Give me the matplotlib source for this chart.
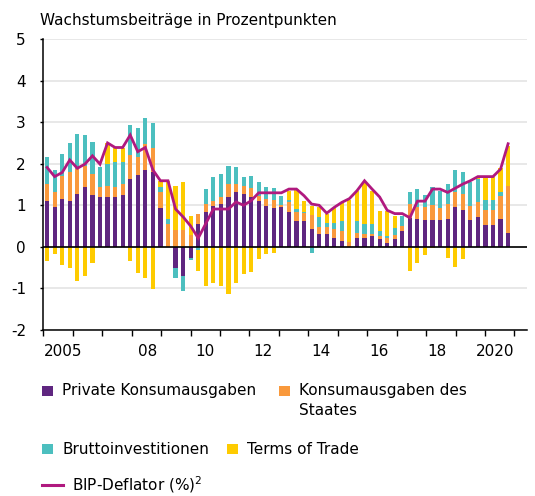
import matplotlib
matplotlib.use("Agg")
import matplotlib.pyplot as plt
import numpy as np
from matplotlib.patches import Rectangle
from matplotlib.lines import Line2D

# ---- data: quarterly, 2005Q1 - 2020Q2 ----
quarters = [f"{y}Q{q}" for y in range(2005, 2021) for q in range(1, 5)][:62]

private = [1.11, 0.95, 1.16, 1.11, 1.27, 1.43, 1.25, 1.19, 1.19, 1.19, 1.25, 1.63,
           1.73, 1.85, 1.81, 0.93, 0.00, -0.50, -0.70, -0.26, 0.54, 0.83, 0.99, 1.04,
           1.20, 1.33, 1.27, 1.20, 1.11, 0.99, 0.93, 0.95, 0.83, 0.61, 0.61, 0.44,
           0.32, 0.31, 0.21, 0.14, 0.00, 0.21, 0.21, 0.26, 0.18, 0.10, 0.18, 0.37,
           0.69, 0.67, 0.64, 0.64, 0.64, 0.68, 0.96, 0.89, 0.64, 0.73, 0.52, 0.52,
           0.67, 0.34]
government = [0.41, 0.36, 0.55, 0.69, 0.60, 0.52, 0.51, 0.24, 0.28, 0.24, 0.27, 0.57,
              0.44, 0.62, 0.58, 0.40, 0.54, 0.40, 0.40, 0.29, 0.24, 0.20, 0.12, 0.16,
              0.31, 0.18, 0.20, 0.21, 0.12, 0.16, 0.19, 0.06, 0.24, 0.22, 0.20, 0.33,
              0.16, 0.17, 0.21, 0.24, 0.12, 0.13, 0.09, 0.06, 0.08, 0.11, 0.11, 0.13,
              0.35, 0.29, 0.31, 0.37, 0.29, 0.35, 0.37, 0.39, 0.35, 0.36, 0.36, 0.36,
              0.56, 1.13]
investment = [0.64, 0.54, 0.53, 0.70, 0.84, 0.73, 0.77, 0.50, 0.53, 0.61, 0.52, 0.72,
              0.68, 0.62, 0.59, 0.10, 0.13, -0.26, -0.37, -0.05, -0.08, 0.36, 0.57, 0.55,
              0.44, 0.40, 0.21, 0.30, 0.32, 0.29, 0.29, 0.22, 0.05, 0.08, 0.03, -0.14,
              0.23, 0.10, 0.16, 0.25, 0.00, 0.29, 0.24, 0.22, 0.12, 0.05, 0.17, 0.25,
              0.29, 0.43, 0.30, 0.42, 0.42, 0.49, 0.51, 0.52, 0.56, 0.54, 0.25, 0.25,
              0.08, 0.00]
terms_of_trade = [-0.35, -0.18, -0.43, -0.51, -0.83, -0.71, -0.38, 0.00, 0.50, 0.35, 0.33, -0.34,
                  -0.62, -0.74, -1.02, 0.16, 0.92, 1.07, 1.15, 0.46, -0.50, -0.94, -0.86, -0.94,
                  -1.14, -0.88, -0.66, -0.60, -0.30, -0.16, -0.14, 0.00, 0.23, 0.48, 0.27, 0.22,
                  0.24, 0.21, 0.35, 0.45, 1.00, 0.72, 1.01, 0.81, 0.49, 0.61, 0.29, 0.00,
                  -0.58, -0.38, -0.19, -0.02, 0.00, -0.27, -0.48, -0.30, 0.00, 0.05, 0.54, 0.54,
                  0.58, 0.96]
deflator = [1.91, 1.69, 1.79, 2.09, 1.89, 1.99, 2.19, 1.99, 2.50, 2.39, 2.39, 2.69,
            2.29, 2.39, 1.85, 1.59, 1.59, 0.91, 0.72, 0.50, 0.21, 0.56, 0.91, 0.91,
            0.91, 1.08, 1.00, 1.11, 1.30, 1.30, 1.30, 1.30, 1.39, 1.39, 1.23, 1.03,
            1.00, 0.81, 0.95, 1.07, 1.16, 1.35, 1.59, 1.39, 1.20, 0.88, 0.80, 0.80,
            0.70, 1.10, 1.10, 1.39, 1.39, 1.31, 1.41, 1.51, 1.59, 1.69, 1.69, 1.69,
            1.87, 2.48]

year_labels = ["2005", "08", "10", "12", "14", "16", "18", "2020"]
series_names = ["Private Konsumausgaben", "Konsumausgaben des\nStaates",
                "Bruttoinvestitionen", "Terms of Trade"]
line_name = "BIP-Deflator (%)$^{2}$"

# ---- style ----
colors = ["#5f2680", "#f9993c", "#4cbfbf", "#fecb00"]
line_color = "#b0197f"
plt.rcParams["font.family"] = ["DejaVu Sans"]
plt.rcParams["mathtext.fontset"] = "dejavusans"
fs = 11

W, H = 535, 496
fig = plt.figure(figsize=(W / 100, H / 100), dpi=100)
ax = fig.add_axes([43.3 / W, 1 - 330 / H, (527 - 43.3) / W, (330 - 39) / H])

x = np.arange(len(quarters))
bw = 0.55
pos_base = np.zeros(len(x))
neg_base = np.zeros(len(x))
for vals, col in zip([private, government, investment, terms_of_trade], colors):
    v = np.array(vals, dtype=float)
    pos = np.where(v > 0, v, 0)
    neg = np.where(v < 0, v, 0)
    ax.bar(x, pos, bw, bottom=pos_base, color=col, linewidth=0, zorder=3)
    ax.bar(x, neg, bw, bottom=neg_base, color=col, linewidth=0, zorder=3)
    pos_base += pos
    neg_base += neg

ax.plot(x, deflator, color=line_color, lw=2.0, zorder=5, solid_joinstyle="miter")

ax.set_xlim(-0.5, 63.5)
ax.set_ylim(-2, 5)
ax.set_yticks(range(-2, 6))
ax.set_yticklabels([str(v) for v in range(-2, 6)], fontsize=fs)
ax.yaxis.grid(True, color="#e6e6e6", lw=1.3, zorder=0)
ax.axhline(0, color="black", lw=1.2, zorder=4)

# year ticks (evenly spaced boundaries) and year labels
step = 3.896
n_years = 16
major = [-0.5 + k * step for k in range(n_years + 1)]
ax.set_xticks(major)
ax.set_xticklabels([])
label_pos = [2.15, 13.3, 20.9, 28.6, 36.3, 43.9, 51.6, 59.3]
ax.set_xticks(label_pos, minor=True)
ax.set_xticklabels(year_labels, minor=True, fontsize=fs)
ax.tick_params(axis="x", which="major", length=4, width=1, direction="out")
ax.tick_params(axis="x", which="minor", length=0, pad=10)
ax.tick_params(axis="y", length=2.5, width=1, pad=10)

for s in ["top", "right"]:
    ax.spines[s].set_visible(False)
for s in ["left", "bottom"]:
    ax.spines[s].set_color("black")
    ax.spines[s].set_linewidth(1.1)

fig.text(40 / W, 1 - 20 / H, "Wachstumsbeiträge in Prozentpunkten",
         fontsize=fs, va="center", ha="left")

# ---- legend (manual layout) ----
def square(px, py, col):
    fig.add_artist(Rectangle((px / W, 1 - (py + 10) / H), 11 / W, 10 / H,
                             transform=fig.transFigure, color=col, lw=0))

def label(px, py, txt):
    fig.text(px / W, 1 - py / H, txt, fontsize=fs, va="center", ha="left",
             linespacing=1.45)

square(42, 386, colors[0]); label(62, 391, series_names[0])
square(279, 386, colors[1]); fig.text(299 / W, 1 - 383 / H, series_names[1], fontsize=fs,
                                      va="top", ha="left", linespacing=1.4)
square(42, 444, colors[2]); label(62, 449, series_names[2])
square(227, 444, colors[3]); label(247, 449, series_names[3])
fig.add_artist(Line2D([42 / W, 63 / W], [1 - 485 / H, 1 - 485 / H],
                      transform=fig.transFigure, color=line_color, lw=2.2))
label(72, 485, line_name)

fig.savefig("out.png", dpi=100)
